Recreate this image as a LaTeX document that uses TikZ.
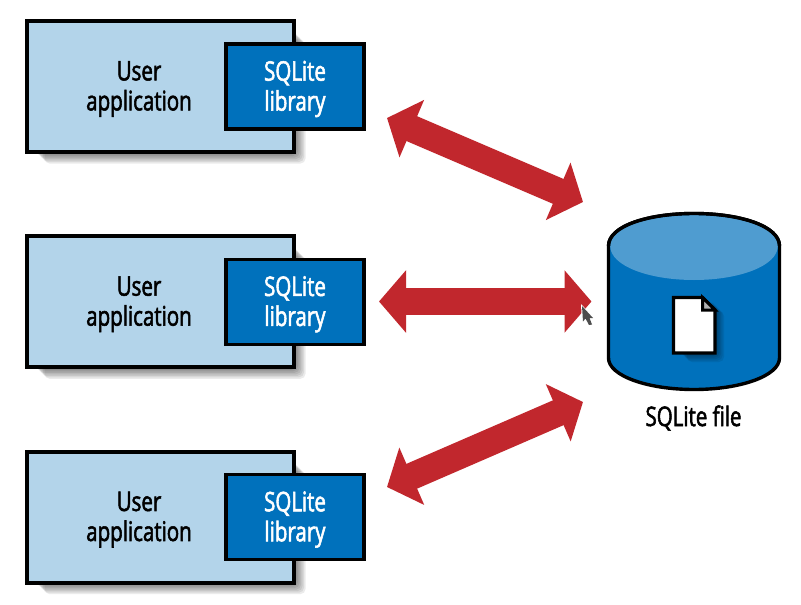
\documentclass[tikz,border=0pt]{standalone}
\usepackage{fontspec}
\setmainfont{Open Sans}[FakeStretch=0.76,FakeBold=2]
\usetikzlibrary{arrows.meta}
\definecolor{appfill}{HTML}{B3D4EA}
\definecolor{libfill}{HTML}{0071BC}
\definecolor{toplight}{HTML}{4F9CD0}
\definecolor{redarrow}{HTML}{C1272D}
\definecolor{cursorgray}{HTML}{4D4D4D}
\tikzset{
  appbox/.style={draw=black,line width=4pt,fill=appfill,minimum width=267pt,minimum height=131pt,inner sep=0pt},
  libbox/.style={draw=black,line width=3.6pt,fill=libfill,minimum width=138pt,minimum height=85pt,inner sep=0pt},
  apptext/.style={text=black,font=\fontsize{27}{30}\selectfont,align=center,inner sep=0pt},
  libtext/.style={text=white,font=\fontsize{27}{30}\selectfont,align=center,inner sep=0pt},
  filetext/.style={text=black,font=\fontsize{27}{30}\selectfont,inner sep=0pt},
  dblarrow/.style={draw=redarrow,line width=27pt,{Triangle[length=27pt,width=61pt]}-{Triangle[length=27pt,width=61pt]}},
  softshadow/.style={fill=black,fill opacity=0.08,draw=none,rounded corners=5pt},
}
\begin{document}
\begin{tikzpicture}[x=1pt,y=-1pt]
\useasboundingbox (0,0) rectangle (801,605);
\fill[white] (0,0) rectangle (801,605);
% application rows
\foreach \i/\dy in {1/0,2/215.3,3/430.6}{
  \foreach \g in {0,1.5,3,4.5,6,7.5,9,10.5}{
    \fill[softshadow] (34+\g,30+\dy+\g) rectangle (295+\g,153+\dy+\g);
  }
  \node[appbox] (app\i) at (160.5,86.5+\dy) {};
  \node[libbox] (lib\i) at (295,86.5+\dy) {};
  \node[apptext] (apptxt\i) at (139,89+\dy) {User\\application};
  \node[libtext] (libtxt\i) at (295,89+\dy) {SQLite\\library};
}
% database cylinder
\draw[line width=3.4pt,fill=libfill] (608.5,246)
  .. controls (608.5,226) and (648,213.5) .. (694,213.5)
  .. controls (740,213.5) and (779.5,226) .. (779.5,246)
  -- (779.5,358)
  .. controls (779.5,376) and (740,389.5) .. (694,389.5)
  .. controls (648,389.5) and (608.5,376) .. (608.5,358) -- cycle;
\fill[toplight] (610.2,246)
  .. controls (610.2,227) and (649,215.2) .. (694,215.2)
  .. controls (739,215.2) and (777.8,227) .. (777.8,246)
  .. controls (777.8,266) and (739,280) .. (694,280)
  .. controls (649,280) and (610.2,266) .. (610.2,246) -- cycle;
\draw[line width=3.4pt] (608.5,246)
  .. controls (608.5,226) and (648,213.5) .. (694,213.5)
  .. controls (740,213.5) and (779.5,226) .. (779.5,246);
% file icon
\foreach \g in {0,1.5,3,4.5,6,7.5,9}{
  \fill[softshadow] (678+\g,302+\g) rectangle (715+\g,353+\g);
}
\draw[line width=3.4pt,fill=white,line join=miter] (673.5,297.5) -- (702.5,297.5) -- (715,310) -- (715,353) -- (673.5,353) -- cycle;
\draw[line width=3pt,fill=black!30] (702.5,297.5) -- (702.5,310) -- (715,310) -- cycle;
\node[filetext] (filelabel) at (693.5,418) {SQLite file};
% connectors
\coordinate (a1) at (387,118);  \coordinate (b1) at (583,202);
\coordinate (a2) at (379,301.5);\coordinate (b2) at (591.5,301.5);
\coordinate (a3) at (387,487);  \coordinate (b3) at (583,402);
\draw[dblarrow] (a1) -- (b1);
\draw[dblarrow] (a2) -- (b2);
\draw[dblarrow] (a3) -- (b3);
% mouse pointer
\fill[white] (581,304) -- (594.5,318.5) -- (591,319) -- (593,325.5) -- (588.5,326) -- (586,320) -- (582,323.5) -- cycle;
\fill[cursorgray] (582,306) -- (593,318) -- (589.5,318) -- (592,324.5) -- (589,325) -- (585.5,318.5) -- (583,321.5) -- cycle;
\end{tikzpicture}
\end{document}
